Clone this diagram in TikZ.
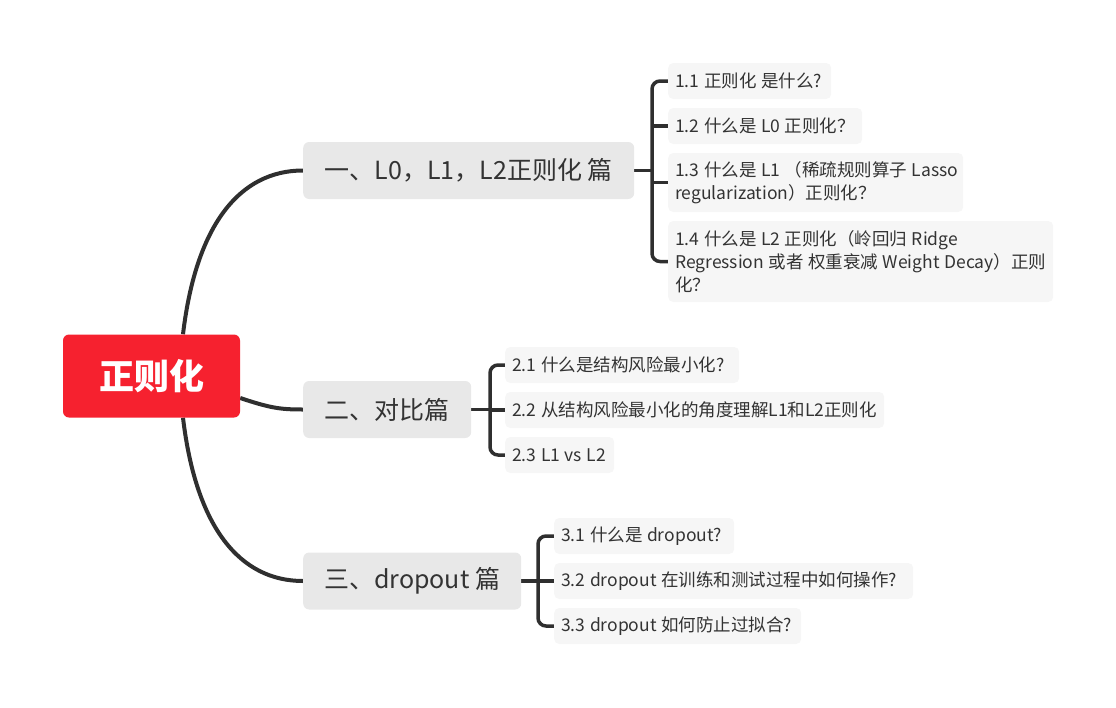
\documentclass[tikz,border=0pt]{standalone}
\usepackage{fontspec}
\setmainfont{Noto Sans CJK SC}
\usetikzlibrary{calc,backgrounds}
\definecolor{rootred}{HTML}{F6212F}
\definecolor{maingray}{HTML}{E8E8E8}
\definecolor{subgray}{HTML}{F6F6F6}
\definecolor{ink}{HTML}{333333}
\definecolor{linec}{HTML}{2F2F2F}
\newcommand{\oneline}[1]{\mbox{#1}}
\begin{document}
\begin{tikzpicture}[x=1pt,y=-1pt,
 rootbox/.style={fill=rootred, rounded corners=6pt, text=white, font=\fontsize{35}{40}\selectfont\bfseries, minimum width=177pt, minimum height=83pt, inner sep=0pt},
 mainbox/.style={fill=maingray, rounded corners=6pt, text=ink, font=\fontsize{25}{28}\selectfont, minimum height=57pt, inner xsep=0pt, inner ysep=0pt, anchor=west, align=center},
 subbox/.style={fill=subgray, rounded corners=5pt, text=ink, font=\fontsize{17.5}{23}\selectfont, execute at begin node={\spaceskip=0.26em\relax}, inner xsep=7pt, inner ysep=0pt, anchor=west, align=left},
 trunk/.style={draw=linec, line width=4pt},
 brace/.style={draw=linec, line width=3.5pt}]
\useasboundingbox (0,0) rectangle (1116,707);

\node[rootbox] (root) at (151.5,376) {正则化};

\node[mainbox, minimum width=331pt] (n1) at (303,170.5) {一、L0，L1，L2正则化 篇};
\node[mainbox, minimum width=168pt] (n2) at (303,409.5) {二、对比篇};
\node[mainbox, minimum width=218pt] (n3) at (303,581) {三、dropout 篇};

\node[subbox, text width=149pt, minimum height=36pt] (s11) at (668,81) {\oneline{1.1 正则化 是什么?}};
\node[subbox, text width=180pt, minimum height=36pt] (s12) at (668,126) {\oneline{1.2 什么是 L0 正则化？}};
\node[subbox, text width=281pt, minimum height=59pt] (s13) at (668,182.5) {\oneline{1.3 什么是 L1 （稀疏规则算子 Lasso}\\\oneline{regularization）正则化？}};
\node[subbox, text width=371pt, minimum height=81pt] (s14) at (668,261.5) {\oneline{1.4 什么是 L2 正则化（岭回归 Ridge}\\\oneline{Regression 或者 权重衰减 Weight Decay）正则}\\\oneline{化？}};

\node[subbox, text width=220pt, minimum height=36pt] (s21) at (505,365) {\oneline{2.1 什么是结构风险最小化?}};
\node[subbox, text width=365pt, minimum height=36pt] (s22) at (505,410) {\oneline{2.2 从结构风险最小化的角度理解L1和L2正则化}};
\node[subbox, text width=95pt, minimum height=36pt] (s23) at (505,455) {\oneline{2.3 L1 vs L2}};

\node[subbox, text width=166pt, minimum height=36pt] (s31) at (554,536) {\oneline{3.1 什么是 dropout?}};
\node[subbox, text width=345pt, minimum height=36pt] (s32) at (554,581) {\oneline{3.2 dropout 在训练和测试过程中如何操作?}};
\node[subbox, text width=233pt, minimum height=36pt] (s33) at (554,626) {\oneline{3.3 dropout 如何防止过拟合?}};

\coordinate (b1) at (652,0);
\coordinate (b2) at (490,0);
\coordinate (b3) at (538,0);

\begin{scope}[on background layer]
\draw[trunk] ([xshift=31.5pt]root.north) .. controls +(13,-110) and +(-63,0) .. (n1.west);
\draw[trunk] ([yshift=-22pt]root.east) .. controls +(30,10) and +(-23,0) .. (n2.west);
\draw[trunk] ([xshift=31.5pt]root.south) .. controls +(13,110) and +(-63,0) .. (n3.west);

\draw[brace, rounded corners=8pt] (s11.west) -- (s11.west -| b1) -- (s14.west -| b1) -- (s14.west);
\draw[brace] (n1.east) -- (n1.east -| b1);
\draw[brace] (s12.west -| b1) -- (s12.west);
\draw[brace] (s13.west -| b1) -- (s13.west);

\draw[brace, rounded corners=8pt] (s21.west) -- (s21.west -| b2) -- (s23.west -| b2) -- (s23.west);
\draw[brace] (n2.east) -- (n2.east -| b2);
\draw[brace] (s22.west -| b2) -- (s22.west);

\draw[brace, rounded corners=8pt] (s31.west) -- (s31.west -| b3) -- (s33.west -| b3) -- (s33.west);
\draw[brace] (n3.east) -- (n3.east -| b3);
\draw[brace] (s32.west -| b3) -- (s32.west);
\end{scope}
\end{tikzpicture}
\end{document}
